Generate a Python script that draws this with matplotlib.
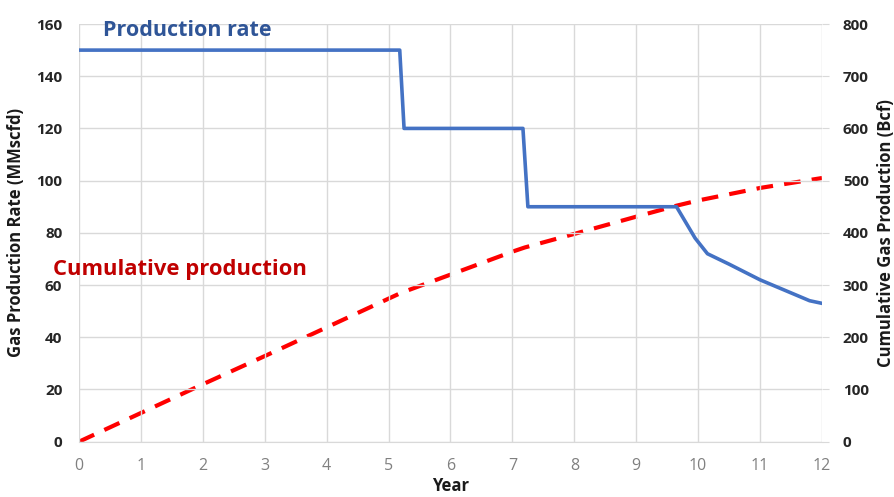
import matplotlib
matplotlib.use("Agg")
import matplotlib.pyplot as plt

# Production rate (MMscfd)
rate_years = [0, 5.18, 5.25, 7.17, 7.25, 9.65, 9.8, 9.95, 10.15, 10.5, 11.0, 11.5, 11.8, 12.0]
rate_values = [150, 150, 120, 120, 90, 90, 84, 78, 72, 68, 62, 57, 54, 53]

# Cumulative production (Bcf)
cum_years = [0, 1, 2, 3, 4, 5, 5.2, 6, 7, 7.2, 8, 9, 9.65, 10, 11, 12]
cum_values = [0, 55, 110, 164, 219, 274, 285, 320, 364, 372, 398, 431, 452, 462, 486, 505]

x_ticks = list(range(0, 13))
left_ticks = list(range(0, 161, 20))
right_ticks = list(range(0, 801, 100))

plt.rcParams['font.family'] = ['Open Sans', 'DejaVu Sans']

fig = plt.figure(figsize=(8.95, 4.97), dpi=100)
ax = fig.add_axes([79/895, 1-441.7/497, (822-79)/895, (441.7-24)/497])
ax2 = ax.twinx()

grid_c = '#d9d9d9'
ax.set_xlim(0, 12)
ax.set_ylim(0, 160)
ax2.set_ylim(0, 800)
ax.set_xticks(x_ticks)
ax.set_yticks(left_ticks)
ax2.set_yticks(right_ticks)
ax.grid(True, color=grid_c, linewidth=1.0)
ax.set_axisbelow(True)
for a in (ax, ax2):
    for s in a.spines.values():
        s.set_visible(False)
ax.spines['bottom'].set_visible(True)
ax.spines['bottom'].set_color(grid_c)

ax.tick_params(axis='x', length=0, pad=12, labelsize=11.5, labelcolor='#808080')
ax.tick_params(axis='y', length=0, pad=12, labelsize=11, labelcolor='#262626')
ax2.tick_params(axis='y', length=5, color=grid_c, pad=10, labelsize=11, labelcolor='#262626')
for lbl in ax.get_yticklabels() + ax2.get_yticklabels():
    lbl.set_fontweight('bold')

ax2.plot(cum_years, cum_values, color='#ff0000', linewidth=3, linestyle=(0, (4, 2.7)), zorder=3)
ax.plot(rate_years, rate_values, color='#4472c4', linewidth=2.6, zorder=4)
ax.set_zorder(ax2.get_zorder() + 1)
ax.patch.set_visible(False)

ax.set_ylabel('Gas Production Rate (MMscfd)', fontsize=12, fontweight='bold', color='#1a1a1a', labelpad=8)
ax2.set_ylabel('Cumulative Gas Production (Bcf)', fontsize=12, fontweight='bold', color='#1a1a1a', labelpad=6)
ax.set_xlabel('Year', fontsize=12, fontweight='bold', color='#1a1a1a', labelpad=2)

fig.text(103/895, 1-31/497, 'Production rate', fontsize=15.5, fontweight='bold', color='#2f5597', va='center', ha='left')
fig.text(53/895, 1-270/497, 'Cumulative production', fontsize=15.8, fontweight='bold', color='#c00000', va='center', ha='left')

fig.savefig('out.png', dpi=100)
